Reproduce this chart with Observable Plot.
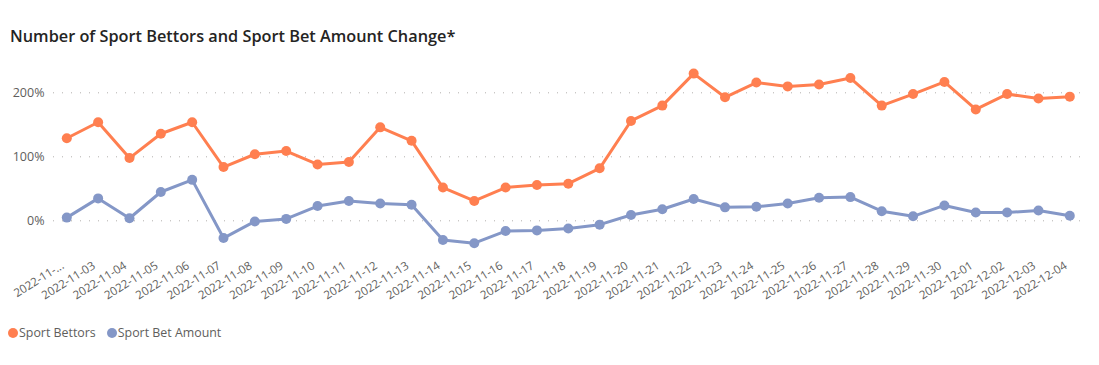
<!DOCTYPE html>
<html><head><meta charset="utf-8">
<script src="https://cdn.jsdelivr.net/npm/d3@7"></script>
<script src="https://cdn.jsdelivr.net/npm/@observablehq/plot@0.6"></script>
<style>
body{margin:0;background:#fff;font-family:"Open Sans",sans-serif;}
#wrap{position:relative;width:1099px;height:365px;overflow:hidden;}
#title{position:absolute;left:10px;top:25px;font-size:16.3px;font-weight:600;color:#252423;white-space:nowrap;}
#chart{position:absolute;left:0;top:50px;}
#legend{position:absolute;left:8px;top:324px;font-size:12.4px;color:#605E5C;display:flex;align-items:center;white-space:nowrap;}
.sw{display:inline-block;width:10px;height:10px;border-radius:50%;margin-right:1px;}
.item{display:flex;align-items:center;margin-right:11px;}
</style></head>
<body><div id="wrap">
<div id="title">Number of Sport Bettors and Sport Bet Amount Change*</div>
<div id="chart"></div>
<div id="legend"></div>
</div>
<script>
const dates = ["2022-11-02","2022-11-03","2022-11-04","2022-11-05","2022-11-06","2022-11-07","2022-11-08","2022-11-09","2022-11-10","2022-11-11","2022-11-12","2022-11-13","2022-11-14","2022-11-15","2022-11-16","2022-11-17","2022-11-18","2022-11-19","2022-11-20","2022-11-21","2022-11-22","2022-11-23","2022-11-24","2022-11-25","2022-11-26","2022-11-27","2022-11-28","2022-11-29","2022-11-30","2022-12-01","2022-12-02","2022-12-03","2022-12-04"];
const series = ["Sport Bettors","Sport Bet Amount"];
const colors = ["#FF7F50","#8497C7"];
const bettors = [129,154,98,136,154,84,104,109,88,92,146,125,52,31,52,56,58,82,156,180,230,193,216,210,213,223,180,198,217,174,198,191,194];
const amount = [5,35,4,45,64,-27,-1,3,23,31,27,25,-30,-35,-16,-15,-12,-6,9,18,34,21,22,27,36,37,15,7,24,13,13,16,8];
const yTicks = [0,100,200];

const data = [];
dates.forEach((d,i)=>{
  data.push({date:d, series:series[0], value:bettors[i]});
  data.push({date:d, series:series[1], value:amount[i]});
});

const chart = Plot.plot({
  width:1099, height:270,
  marginLeft:53, marginRight:19, marginTop:0, marginBottom:68,
  style:{fontFamily:"'Open Sans', sans-serif", fontSize:"12px", color:"#605E5C", background:"transparent"},
  x:{type:"point", domain:dates, range:[66.3,1069.3], padding:0, round:false, label:null},
  y:{domain:[0,200], range:[170.3,42.3], label:null},
  color:{domain:series, range:colors},
  marks:[
    Plot.gridY(yTicks, {stroke:"#B3B0AD", strokeOpacity:1, strokeDasharray:"1,8"}),
    Plot.axisY(yTicks, {tickSize:0, tickPadding:9, tickFormat:d=>d+"%", fill:"#605E5C", fontSize:12.5, label:null}),
    Plot.axisX({tickSize:0, tickPadding:12, tickRotate:-32, dx:-4, fill:"#605E5C", fontSize:11.6, label:null,
      tickFormat:d=> d===dates[0] ? "2022-11-..." : d}),
    Plot.line(data,{x:"date", y:"value", z:"series", stroke:"series", strokeWidth:3}),
    Plot.dot(data,{x:"date", y:"value", fill:"series", r:5})
  ]
});
document.getElementById("chart").appendChild(chart);

const lg = document.getElementById("legend");
series.forEach((s,i)=>{
  const it = document.createElement("span"); it.className="item";
  const sw = document.createElement("span"); sw.className="sw"; sw.style.background=colors[i];
  it.appendChild(sw); it.appendChild(document.createTextNode(s));
  lg.appendChild(it);
});
</script>
</body></html>
